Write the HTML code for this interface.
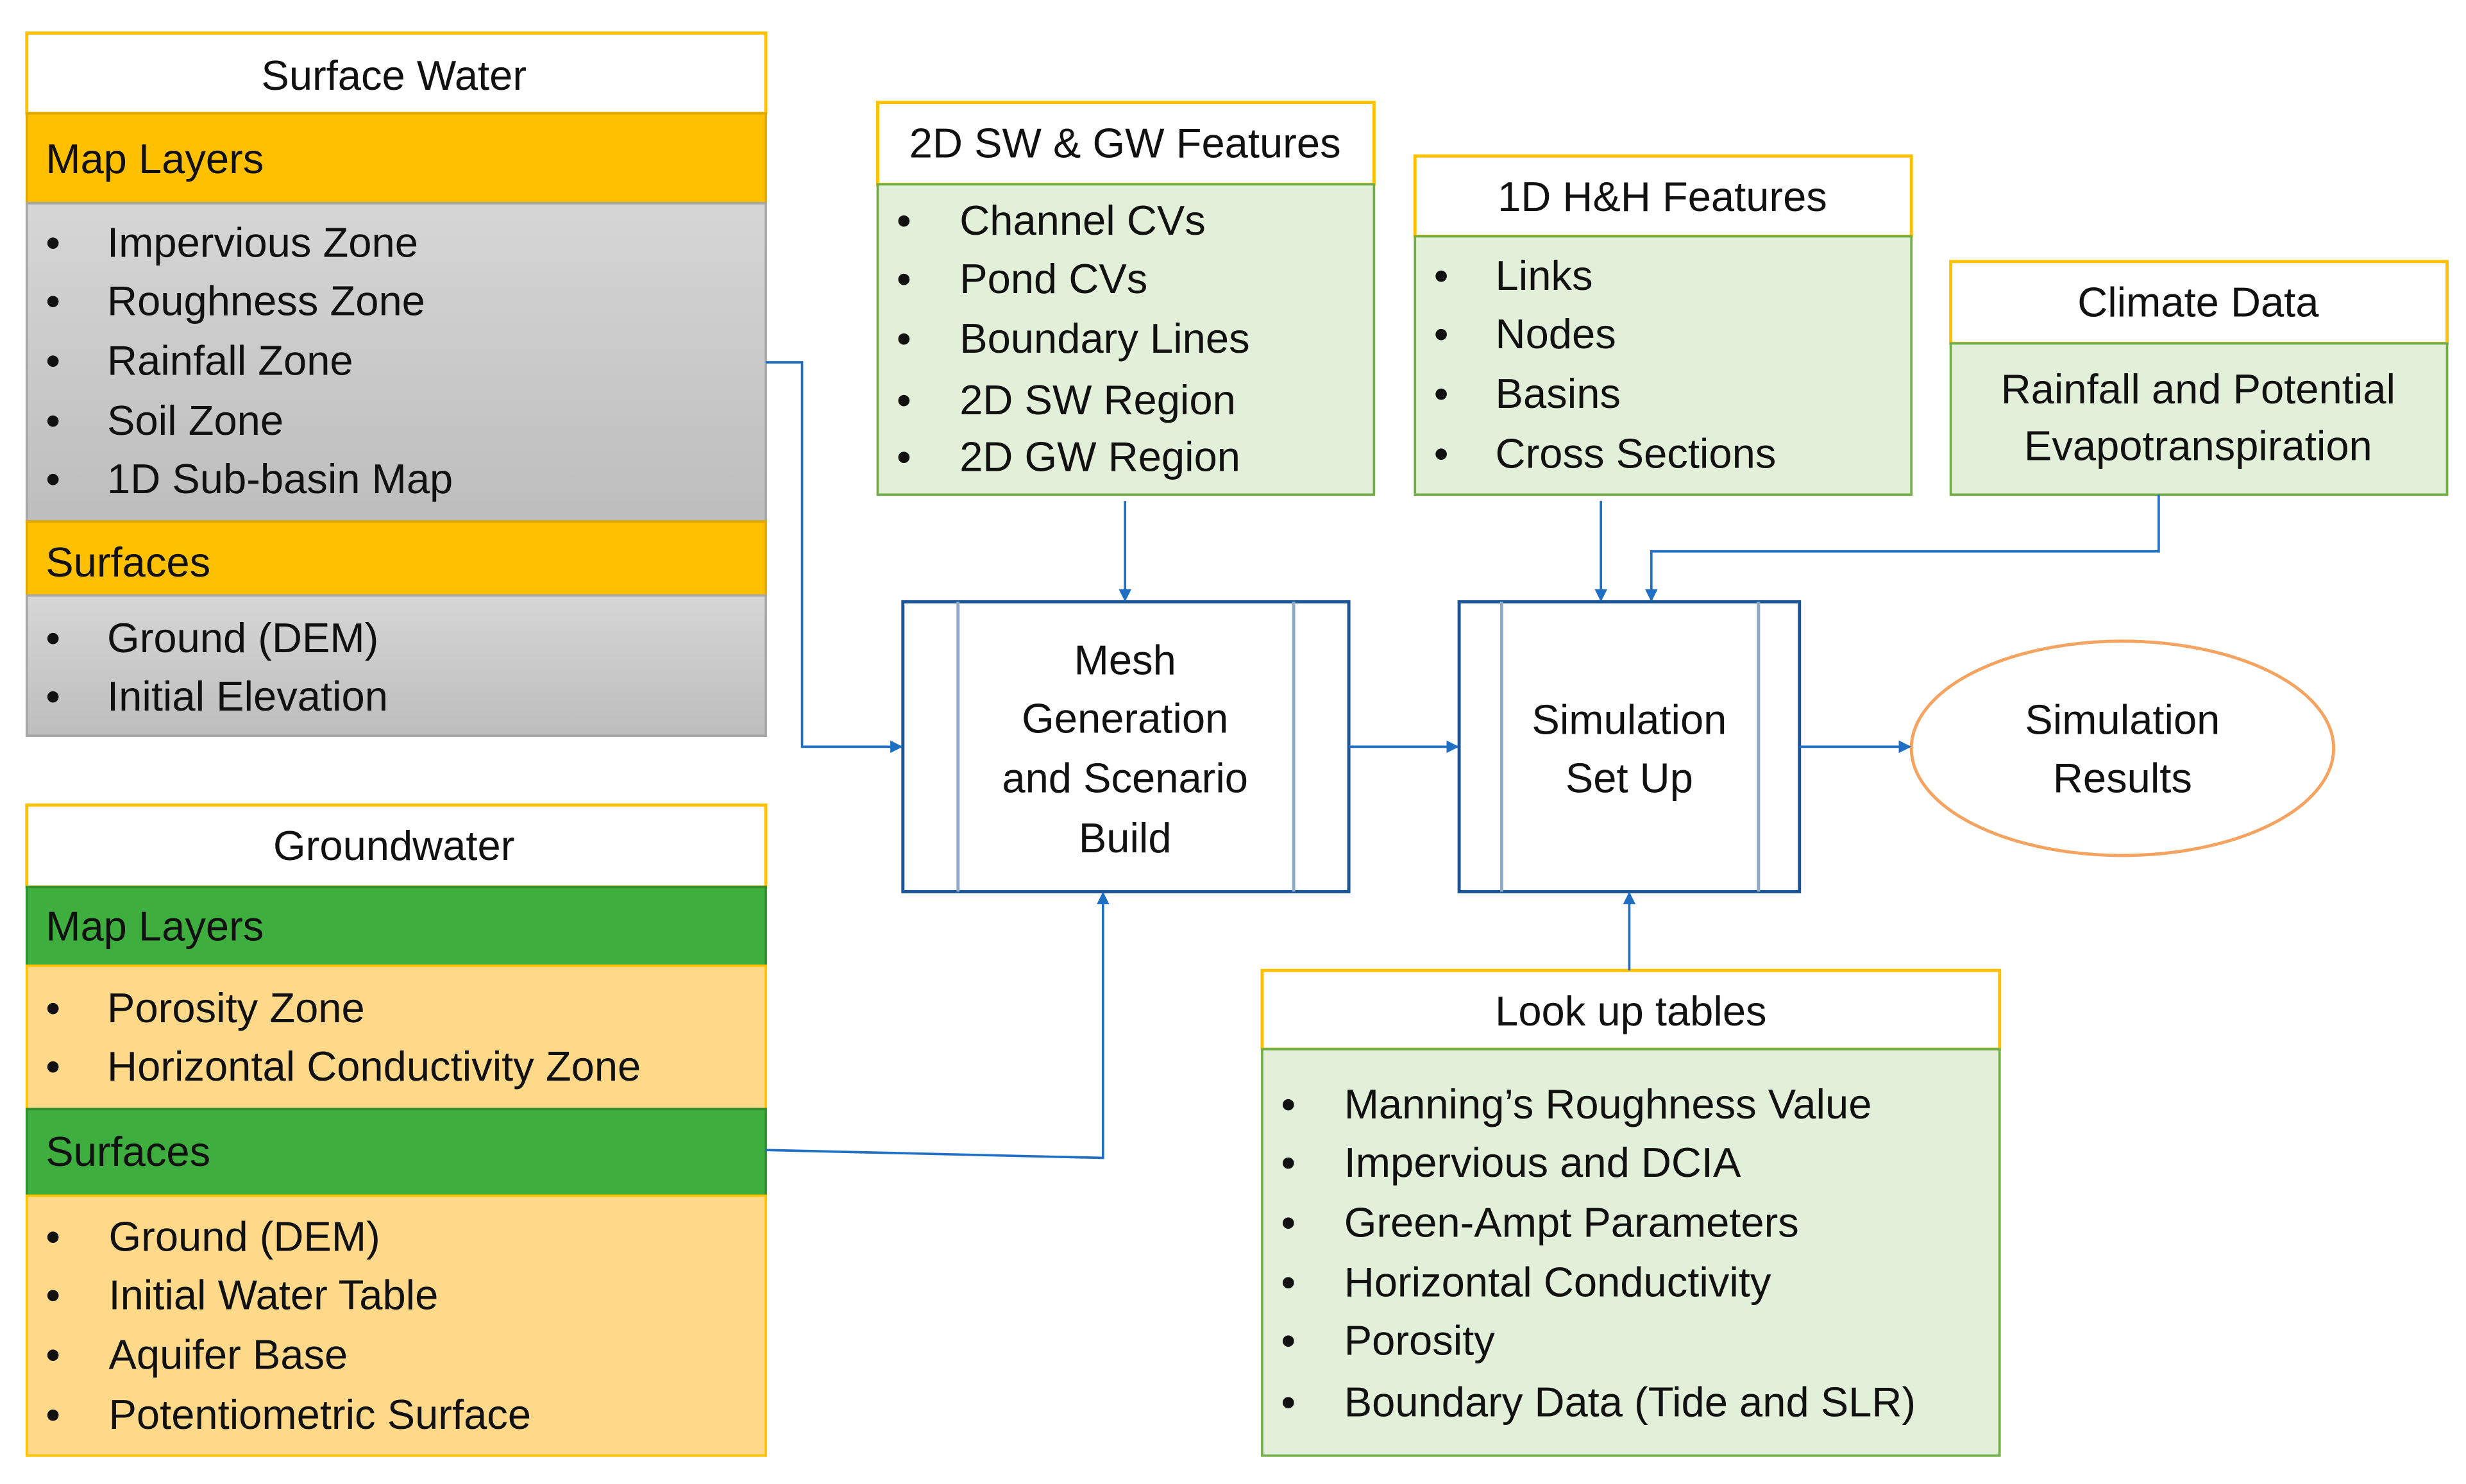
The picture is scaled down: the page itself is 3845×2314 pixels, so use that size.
<!DOCTYPE html>
<html><head><meta charset="utf-8"><style>
html,body{margin:0;padding:0;background:#fff;width:3845px;height:2314px;overflow:hidden}
svg text{font-family:"Liberation Sans",sans-serif;font-size:26.5px;fill:#111}
</style></head><body>
<svg width="3845" height="2314" viewBox="0 0 1565 942" preserveAspectRatio="none" xmlns="http://www.w3.org/2000/svg">
<defs>
<linearGradient id="g" x1="0" y1="0" x2="0" y2="1"><stop offset="0" stop-color="#d6d6d6"/><stop offset="1" stop-color="#bdbdbd"/></linearGradient>
<marker id="a" markerWidth="8" markerHeight="8" refX="7" refY="4" orient="auto" markerUnits="userSpaceOnUse"><path d="M0,0 L8,4 L0,8 z" fill="#1f6fc5"/></marker>
</defs>
<rect x="17" y="21" width="469" height="51" fill="#fff" stroke="#FFC000" stroke-width="2"/>
<text x="250" y="57" text-anchor="middle">Surface Water</text>
<rect x="17" y="72" width="469" height="57" fill="#FFC000" stroke="#e0a800" stroke-width="1.5"/>
<text x="29" y="110">Map Layers</text>
<rect x="17" y="129" width="469" height="202" fill="url(#g)" stroke="#a6a6a6" stroke-width="1.5"/>
<text x="29" y="163">•</text><text x="68" y="163">Impervious Zone</text>
<text x="29" y="200">•</text><text x="68" y="200">Roughness Zone</text>
<text x="29" y="238">•</text><text x="68" y="238">Rainfall Zone</text>
<text x="29" y="276">•</text><text x="68" y="276">Soil Zone</text>
<text x="29" y="313">•</text><text x="68" y="313">1D Sub-basin Map</text>
<rect x="17" y="331" width="469" height="47" fill="#FFC000" stroke="#e0a800" stroke-width="1.5"/>
<text x="29" y="366">Surfaces</text>
<rect x="17" y="378" width="469" height="89" fill="url(#g)" stroke="#a6a6a6" stroke-width="1.5"/>
<text x="29" y="414">•</text><text x="68" y="414">Ground (DEM)</text>
<text x="29" y="451">•</text><text x="68" y="451">Initial Elevation</text>
<rect x="17" y="511" width="469" height="52" fill="#fff" stroke="#FFC000" stroke-width="2"/>
<text x="250" y="546" text-anchor="middle">Groundwater</text>
<rect x="17" y="563" width="469" height="50" fill="#3EAE3E" stroke="#2f8f2f" stroke-width="1.5"/>
<text x="29" y="597">Map Layers</text>
<rect x="17" y="613" width="469" height="91" fill="#FFD98A" stroke="#FFC000" stroke-width="1.5"/>
<text x="29" y="649">•</text><text x="68" y="649">Porosity Zone</text>
<text x="29" y="686">•</text><text x="68" y="686">Horizontal Conductivity Zone</text>
<rect x="17" y="704" width="469" height="55" fill="#3EAE3E" stroke="#2f8f2f" stroke-width="1.5"/>
<text x="29" y="740">Surfaces</text>
<rect x="17" y="759" width="469" height="165" fill="#FFD98A" stroke="#FFC000" stroke-width="1.5"/>
<text x="29" y="794">•</text><text x="69" y="794">Ground (DEM)</text>
<text x="29" y="831">•</text><text x="69" y="831">Initial Water Table</text>
<text x="29" y="869">•</text><text x="69" y="869">Aquifer Base</text>
<text x="29" y="907">•</text><text x="69" y="907">Potentiometric Surface</text>
<rect x="557" y="65" width="315" height="52" fill="#fff" stroke="#FFC000" stroke-width="2"/>
<text x="714" y="100" text-anchor="middle">2D SW &amp; GW Features</text>
<rect x="557" y="117" width="315" height="197" fill="#E2F0D9" stroke="#70AD47" stroke-width="1.5"/>
<text x="569" y="149">•</text><text x="609" y="149">Channel CVs</text>
<text x="569" y="186">•</text><text x="609" y="186">Pond CVs</text>
<text x="569" y="224">•</text><text x="609" y="224">Boundary Lines</text>
<text x="569" y="263">•</text><text x="609" y="263">2D SW Region</text>
<text x="569" y="299">•</text><text x="609" y="299">2D GW Region</text>
<rect x="898" y="99" width="315" height="51" fill="#fff" stroke="#FFC000" stroke-width="2"/>
<text x="1055" y="134" text-anchor="middle">1D H&amp;H Features</text>
<rect x="898" y="150" width="315" height="164" fill="#E2F0D9" stroke="#70AD47" stroke-width="1.5"/>
<text x="910" y="184">•</text><text x="949" y="184">Links</text>
<text x="910" y="221">•</text><text x="949" y="221">Nodes</text>
<text x="910" y="259">•</text><text x="949" y="259">Basins</text>
<text x="910" y="297">•</text><text x="949" y="297">Cross Sections</text>
<rect x="1238" y="166" width="315" height="52" fill="#fff" stroke="#FFC000" stroke-width="2"/>
<text x="1395" y="201" text-anchor="middle">Climate Data</text>
<rect x="1238" y="218" width="315" height="96" fill="#E2F0D9" stroke="#70AD47" stroke-width="1.5"/>
<text x="1395" y="256" text-anchor="middle">Rainfall and Potential</text>
<text x="1395" y="292" text-anchor="middle">Evapotranspiration</text>
<rect x="573" y="382" width="283" height="184" fill="#fff" stroke="#1a5496" stroke-width="2"/>
<line x1="608" y1="382" x2="608" y2="566" stroke="#8eaacb" stroke-width="2"/>
<line x1="821" y1="382" x2="821" y2="566" stroke="#8eaacb" stroke-width="2"/>
<text x="714" y="428" text-anchor="middle">Mesh</text>
<text x="714" y="465" text-anchor="middle">Generation</text>
<text x="714" y="503" text-anchor="middle">and Scenario</text>
<text x="714" y="541" text-anchor="middle">Build</text>
<rect x="926" y="382" width="216" height="184" fill="#fff" stroke="#1a5496" stroke-width="2"/>
<line x1="953" y1="382" x2="953" y2="566" stroke="#8eaacb" stroke-width="2"/>
<line x1="1116" y1="382" x2="1116" y2="566" stroke="#8eaacb" stroke-width="2"/>
<text x="1034" y="466" text-anchor="middle">Simulation</text>
<text x="1034" y="503" text-anchor="middle">Set Up</text>
<ellipse cx="1347" cy="475" rx="134" ry="68" fill="#fff" stroke="#F4A460" stroke-width="2"/>
<text x="1347" y="466" text-anchor="middle">Simulation</text>
<text x="1347" y="503" text-anchor="middle">Results</text>
<rect x="801" y="616" width="468" height="50" fill="#fff" stroke="#FFC000" stroke-width="2"/>
<text x="1035" y="651" text-anchor="middle">Look up tables</text>
<rect x="801" y="666" width="468" height="258" fill="#E2F0D9" stroke="#70AD47" stroke-width="1.5"/>
<text x="813" y="710">•</text><text x="853" y="710">Manning’s Roughness Value</text>
<text x="813" y="747">•</text><text x="853" y="747">Impervious and DCIA</text>
<text x="813" y="785">•</text><text x="853" y="785">Green-Ampt Parameters</text>
<text x="813" y="823">•</text><text x="853" y="823">Horizontal Conductivity</text>
<text x="813" y="860">•</text><text x="853" y="860">Porosity</text>
<text x="813" y="899">•</text><text x="853" y="899">Boundary Data (Tide and SLR)</text>
<g fill="none" stroke="#1f6fc5" stroke-width="1.5">
<polyline points="486,230 509,230 509,474 572,474" marker-end="url(#a)"/>
<polyline points="714,318 714,381" marker-end="url(#a)"/>
<polyline points="1016,318 1016,381" marker-end="url(#a)"/>
<polyline points="1370,314 1370,350 1048,350 1048,381" marker-end="url(#a)"/>
<polyline points="856,474 925,474" marker-end="url(#a)"/>
<polyline points="1142,474 1212,474" marker-end="url(#a)"/>
<polyline points="1034,616 1034,567" marker-end="url(#a)"/>
<polyline points="486,730 700,735 700,567" marker-end="url(#a)"/>
</g>
</svg>
</body></html>
